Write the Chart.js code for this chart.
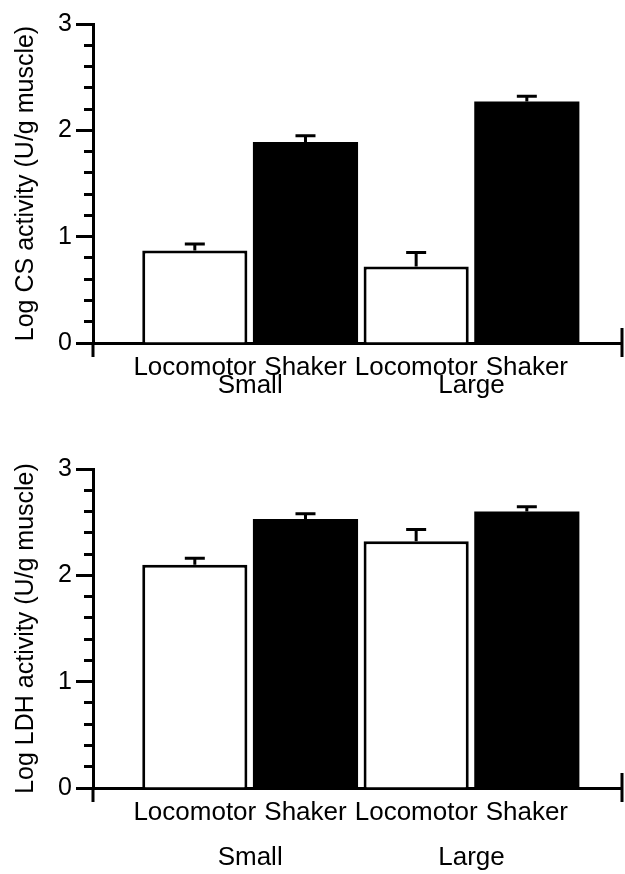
<!DOCTYPE html>
<html>
<head>
<meta charset="utf-8">
<script src="https://cdn.jsdelivr.net/npm/chart.js@4.4.1/dist/chart.umd.min.js"></script>
<style>
  html, body { margin: 0; padding: 0; background: #fff; }
  #wrap { position: relative; width: 625px; height: 874px; overflow: hidden; }
  #c1 { position: absolute; left: 0; top: 0; }
  #c2 { position: absolute; left: 0; top: 445px; }
</style>
</head>
<body>
<div id="wrap">
  <canvas id="c1" width="625" height="445"></canvas>
  <canvas id="c2" width="625" height="429"></canvas>
</div>
<script>
// ---- data ----
const categories = ['Locomotor', 'Shaker', 'Locomotor', 'Shaker'];
const groups = ['Small', 'Large'];
const groupMembers = [[0, 1], [2, 3]];
const barColors = ['#ffffff', '#000000', '#ffffff', '#000000'];
const barBorders = [3, 0, 3, 0];
const yTicksMajor = [0, 1, 2, 3];

const csMeans = [0.87, 1.89, 0.72, 2.27];
const csErr = [0.06, 0.06, 0.13, 0.05];

const ldhMeans = [2.10, 2.53, 2.32, 2.60];
const ldhErr = [0.06, 0.05, 0.11, 0.045];

const FONT = '"Liberation Sans", Arial, Helvetica, sans-serif';

function isMajor(v) { return Math.abs(v - Math.round(v)) < 1e-6; }

const extrasPlugin = {
  id: 'extras',
  afterDatasetsDraw(chart, args, opts) {
    const ctx = chart.ctx;
    const xs = chart.scales.x, ys = chart.scales.y;
    ctx.save();
    ctx.strokeStyle = '#000';
    ctx.lineWidth = 3;
    ctx.lineCap = 'butt';
    opts.means.forEach((m, i) => {
      const x = xs.getPixelForValue(i + 1);
      const y0 = ys.getPixelForValue(m);
      const y1 = ys.getPixelForValue(m + opts.errs[i]);
      ctx.beginPath();
      ctx.moveTo(x, y0);
      ctx.lineTo(x, y1);
      ctx.moveTo(x - 10, y1);
      ctx.lineTo(x + 10, y1);
      ctx.stroke();
    });
    ctx.restore();
  },
  afterDraw(chart, args, opts) {
    const ctx = chart.ctx;
    const xs = chart.scales.x;
    const ca = chart.chartArea;
    ctx.save();
    ctx.strokeStyle = '#000';
    ctx.lineWidth = 3;
    // axis end ticks
    ctx.beginPath();
    ctx.moveTo(ca.left, ca.bottom);
    ctx.lineTo(ca.left, ca.bottom + 14);
    ctx.moveTo(ca.right, ca.bottom - 15);
    ctx.lineTo(ca.right, ca.bottom + 14);
    ctx.stroke();
    // group labels
    ctx.fillStyle = '#000';
    ctx.font = '26px ' + FONT;
    ctx.textAlign = 'center';
    ctx.textBaseline = 'middle';
    groups.forEach((g, gi) => {
      const mem = groupMembers[gi];
      const cx = mem.reduce((s, k) => s + xs.getPixelForValue(k + 1), 0) / mem.length;
      ctx.fillText(g, cx, ca.bottom + opts.groupOffset);
    });
    ctx.restore();
  }
};

function makeChart(id, means, errs, title, xHeight, groupOffset) {
  const data = means.map((v, i) => ({ x: i + 1, y: v }));
  return new Chart(document.getElementById(id), {
    type: 'bar',
    data: {
      datasets: [{
        data: data,
        backgroundColor: barColors,
        borderColor: '#000',
        borderWidth: barBorders,
        borderSkipped: 'start',
        categoryPercentage: 1.0,
        barPercentage: 0.95
      }]
    },
    plugins: [extrasPlugin],
    options: {
      responsive: false,
      animation: false,
      devicePixelRatio: 1,
      layout: { padding: { left: 0, right: 3, top: 24, bottom: 0 } },
      plugins: {
        legend: { display: false },
        tooltip: { enabled: false },
        extras: { means: means, errs: errs, groupOffset: groupOffset }
      },
      scales: {
        x: {
          type: 'linear',
          offset: false,
          min: 0.08,
          max: 4.86,
          afterBuildTicks: (s) => { s.ticks = categories.map((c, i) => ({ value: i + 1 })); },
          afterFit: (s) => { s.height = xHeight; },
          grid: { display: false },
          border: { display: true, color: '#000', width: 3 },
          ticks: {
            autoSkip: false,
            maxRotation: 0,
            minRotation: 0,
            padding: 1,
            color: '#000',
            font: { family: FONT, size: 26 },
            callback: (v, i) => categories[i]
          }
        },
        y: {
          min: 0,
          max: 3,
          afterFit: (s) => { s.width = 93; },
          grid: {
            display: true,
            drawOnChartArea: false,
            drawTicks: true,
            tickLength: 17,
            tickWidth: 3,
            tickColor: '#000',
            tickBorderDash: (c) => (c.tick && !isMajor(c.tick.value)) ? [0, 8, 30] : []
          },
          border: { display: true, color: '#000', width: 3 },
          ticks: {
            stepSize: 0.2,
            autoSkip: false,
            padding: 4,
            color: '#000',
            font: { family: FONT, size: 25 },
            callback: (v) => isMajor(v) && yTicksMajor.includes(Math.round(v)) ? String(Math.round(v)) : ''
          },
          title: {
            display: true,
            text: title,
            color: '#000',
            font: { family: FONT, size: 25 },
            padding: { top: 11, bottom: 0 }
          }
        }
      }
    }
  });
}

makeChart('c1', csMeans, csErr, 'Log CS activity (U/g muscle)', 102, 43);
makeChart('c2', ldhMeans, ldhErr, 'Log LDH activity (U/g muscle)', 86, 70);
</script>
</body>
</html>
